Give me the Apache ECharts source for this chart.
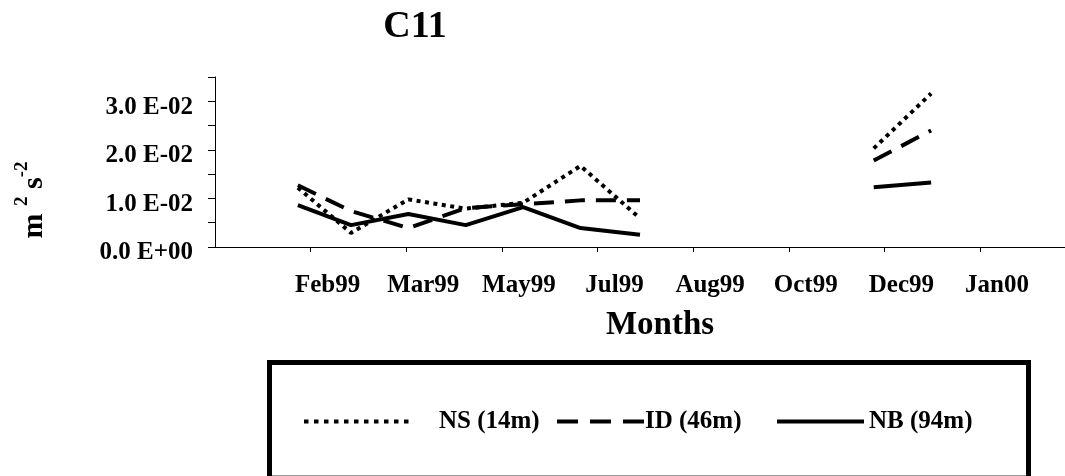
<!DOCTYPE html>
<html><head><meta charset="utf-8">
<script src="https://cdn.jsdelivr.net/npm/echarts@6/dist/echarts.min.js"></script>
<style>html,body{margin:0;padding:0;background:#fff}#c{width:1065px;height:476px}</style>
</head><body><div id="c"></div>
<script>
// Sampling dates (days from axis origin); null-valued entry breaks the line (no data Aug-Nov 99)
const sampleDays = [39, 64, 91, 118, 145, 172, 200, 255, 310, 337];
const seriesNames = ['NS (14m)', 'ID (46m)', 'NB (94m)'];
const nsValues = [0.0122, 0.0029, 0.0098, 0.0079, 0.0091, 0.0167, 0.0059, null, 0.0203, 0.0316];
const idValues = [0.0127, 0.0074, 0.0039, 0.0080, 0.0088, 0.0096, 0.0096, null, 0.0178, 0.0240];
const nbValues = [0.0086, 0.0045, 0.0068, 0.0045, 0.0082, 0.0039, 0.0025, null, 0.0123, 0.0133];
const xTickDays = [45, 90, 135, 180, 225, 270, 315, 360];
const xTickLabels = ['Feb99', 'Mar99', 'May99', 'Jul99', 'Aug99', 'Oct99', 'Dec99', 'Jan00'];
const yTickValues = [0, 0.01, 0.02, 0.03];
const yTickLabels = ['0.0 E+00', '1.0 E-02', '2.0 E-02', '3.0 E-02'];

const FONT = '"Liberation Serif", "Times New Roman", serif';
const pair = vals => sampleDays.map((d, i) => [d, vals[i]]);

const chart = echarts.init(document.getElementById('c'), null, {renderer: 'canvas'});
const lineBase = {type: 'line', symbol: 'none', connectNulls: false, animation: false};
const legendText = pad => ({fontFamily: FONT, fontWeight: 'bold', fontSize: 25, color: '#000', padding: [0, 0, 0, pad]});
const hiddenSymbol = {color: 'rgba(0,0,0,0)', borderWidth: 0, opacity: 0};
chart.setOption({
  animation: false,
  backgroundColor: '#fff',
  grid: {left: 215, right: 0, top: 77, bottom: 229, containLabel: false},
  xAxis: {
    type: 'value', min: 0, max: 400, interval: 45,
    splitLine: {show: false},
    axisLine: {show: true, onZero: false, lineStyle: {color: '#000', width: 1}},
    axisTick: {show: true, length: 5, customValues: xTickDays, lineStyle: {color: '#000'}},
    axisLabel: {
      customValues: xTickDays, margin: 26,
      formatter: v => { const i = xTickDays.indexOf(v); return i >= 0 ? xTickLabels[i] : ''; },
      fontFamily: FONT, fontWeight: 'bold', fontSize: 25, color: '#000',
      padding: [0, 0, 0, 34]
    }
  },
  yAxis: {
    type: 'value', min: 0, max: 0.035, interval: 0.005,
    splitLine: {show: false},
    axisLine: {show: true, lineStyle: {color: '#000', width: 1}},
    axisTick: {show: true, length: 7, lineStyle: {color: '#000'}},
    axisLabel: {
      customValues: yTickValues, margin: 22,
      formatter: v => { const i = yTickValues.findIndex(t => Math.abs(t - v) < 1e-9); return i >= 0 ? yTickLabels[i] : ''; },
      fontFamily: FONT, fontWeight: 'bold', fontSize: 25, color: '#000',
      verticalAlign: 'top', lineHeight: 12
    }
  },
  legend: [
    {left: 297, top: 404, itemWidth: 110, itemHeight: 24, data: [seriesNames[0]],
     itemStyle: hiddenSymbol, lineStyle: {type: [4.5, 5.5], width: 4},
     textStyle: legendText(20)},
    {left: 550, top: 404, itemWidth: 87, itemHeight: 24, data: [seriesNames[1]],
     itemStyle: hiddenSymbol, lineStyle: {type: [21, 12], width: 4},
     textStyle: legendText(-4)},
    {left: 770, top: 404, itemWidth: 87, itemHeight: 24, data: [seriesNames[2]],
     itemStyle: hiddenSymbol, lineStyle: {width: 4},
     textStyle: legendText(0)}
  ],
  series: [
    Object.assign({}, lineBase, {name: seriesNames[0], data: pair(nsValues),
      lineStyle: {color: '#000', width: 4, type: [4, 4.5], cap: 'butt'}, itemStyle: {color: '#000'}}),
    Object.assign({}, lineBase, {name: seriesNames[1], data: pair(idValues),
      lineStyle: {color: '#000', width: 4, type: [20, 11], cap: 'butt'}, itemStyle: {color: '#000'}}),
    Object.assign({}, lineBase, {name: seriesNames[2], data: pair(nbValues),
      lineStyle: {color: '#000', width: 4, type: 'solid'}, itemStyle: {color: '#000'}})
  ],
  graphic: [
    {type: 'text', x: 415, y: 27, style: {text: 'C11', font: 'bold 38px ' + FONT, fill: '#000',
      align: 'center', verticalAlign: 'middle', textAlign: 'center', textVerticalAlign: 'middle'}},
    {type: 'text', x: 660, y: 325, style: {text: 'Months', font: 'bold 33px ' + FONT, fill: '#000',
      align: 'center', verticalAlign: 'middle', textAlign: 'center', textVerticalAlign: 'middle'}},
    {type: 'text', x: 31, y: 200, rotation: Math.PI / 2, style: {
      text: '{m|m} {sup|2} {m|s}{sup|-2}',
      align: 'center', verticalAlign: 'middle', textAlign: 'center', textVerticalAlign: 'middle',
      rich: {
        m: {fontFamily: FONT, fontWeight: 'bold', fontSize: 30, lineHeight: 36, verticalAlign: 'bottom', fill: '#000'},
        sup: {fontFamily: FONT, fontWeight: 'bold', fontSize: 19, lineHeight: 36, verticalAlign: 'top', fill: '#000'}
      },
      font: 'bold 30px ' + FONT, fill: '#000'}},
    {type: 'rect', shape: {x: 269.5, y: 362.5, width: 759, height: 200},
      style: {fill: 'none', stroke: '#000', lineWidth: 5}},
    {type: 'line', shape: {x1: 272, y1: 475.5, x2: 1026, y2: 475.5}, style: {stroke: '#999', lineWidth: 1}}
  ]
});
</script></body></html>
